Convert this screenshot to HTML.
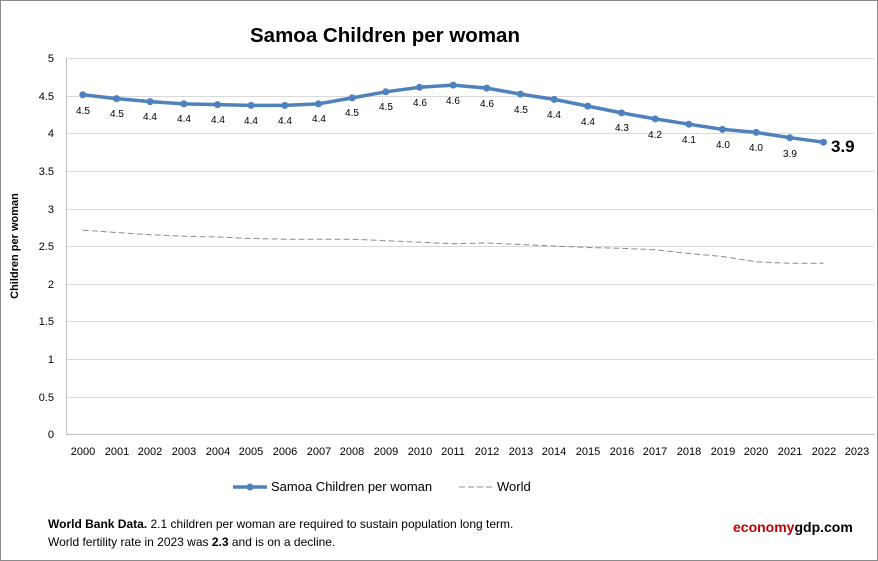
<!DOCTYPE html>
<html><head><meta charset="utf-8"><style>
body{margin:0;background:#fff}
svg{display:block;font-family:"Liberation Sans",sans-serif}
</style></head><body>
<svg width="878" height="561" viewBox="0 0 878 561">
<rect x="0.5" y="0.5" width="877" height="560" fill="#fff" stroke="#8a8a8a"/>
<text x="385" y="42" font-size="20.5" font-weight="bold" text-anchor="middle" fill="#000">Samoa Children per woman</text>
<g stroke="#d9d9d9" stroke-width="1">
<line x1="66" y1="58.5" x2="874" y2="58.5"/><line x1="66" y1="96.5" x2="874" y2="96.5"/><line x1="66" y1="133.5" x2="874" y2="133.5"/><line x1="66" y1="171.5" x2="874" y2="171.5"/><line x1="66" y1="209.5" x2="874" y2="209.5"/><line x1="66" y1="246.5" x2="874" y2="246.5"/><line x1="66" y1="284.5" x2="874" y2="284.5"/><line x1="66" y1="321.5" x2="874" y2="321.5"/><line x1="66" y1="359.5" x2="874" y2="359.5"/><line x1="66" y1="397.5" x2="874" y2="397.5"/>
</g>
<line x1="66.5" y1="58" x2="66.5" y2="434" stroke="#bfbfbf"/>
<line x1="66" y1="434.5" x2="874" y2="434.5" stroke="#bfbfbf"/>
<g font-size="11" text-anchor="end" fill="#000">
<text x="54" y="62">5</text><text x="54" y="100">4.5</text><text x="54" y="137">4</text><text x="54" y="175">3.5</text><text x="54" y="213">3</text><text x="54" y="250">2.5</text><text x="54" y="288">2</text><text x="54" y="325">1.5</text><text x="54" y="363">1</text><text x="54" y="401">0.5</text><text x="54" y="438">0</text>
</g>
<text transform="translate(18,246) rotate(-90)" font-size="11" font-weight="bold" text-anchor="middle">Children per woman</text>
<g font-size="11" text-anchor="middle">
<text x="83" y="455">2000</text><text x="117" y="455">2001</text><text x="150" y="455">2002</text><text x="184" y="455">2003</text><text x="218" y="455">2004</text><text x="251" y="455">2005</text><text x="285" y="455">2006</text><text x="319" y="455">2007</text><text x="352" y="455">2008</text><text x="386" y="455">2009</text><text x="420" y="455">2010</text><text x="453" y="455">2011</text><text x="487" y="455">2012</text><text x="521" y="455">2013</text><text x="554" y="455">2014</text><text x="588" y="455">2015</text><text x="622" y="455">2016</text><text x="655" y="455">2017</text><text x="689" y="455">2018</text><text x="723" y="455">2019</text><text x="756" y="455">2020</text><text x="790" y="455">2021</text><text x="824" y="455">2022</text><text x="857" y="455">2023</text>
</g>
<polyline fill="none" stroke="#8c8c8c" stroke-width="1" stroke-dasharray="6,3" points="82.8,230.2 116.5,232.5 150.1,234.7 183.8,236.2 217.5,237 251.1,238.5 284.8,239.2 318.5,239.2 352.2,239.2 385.8,240.7 419.5,242.2 453.2,243.7 486.8,243 520.5,244.5 554.2,246 587.8,247.5 621.5,248.3 655.2,249.8 688.9,253.5 722.5,256.5 756.2,261.8 789.9,263.3 823.5,263.3"/>
<g fill="#4f81bd">
<polyline fill="none" stroke="#4f81bd" stroke-width="3.5" stroke-linejoin="round" points="82.8,94.8 116.5,98.6 150.1,101.6 183.8,103.9 217.5,104.6 251.1,105.4 284.8,105.4 318.5,103.9 352.2,97.9 385.8,91.8 419.5,87.3 453.2,85.1 486.8,88.1 520.5,94.1 554.2,99.4 587.8,106.1 621.5,112.9 655.2,118.9 688.9,124.2 722.5,129.4 756.2,132.4 789.9,137.7 823.5,142.2"/>
<circle cx="82.8" cy="94.8" r="3.5"/><circle cx="116.5" cy="98.6" r="3.5"/><circle cx="150.1" cy="101.6" r="3.5"/><circle cx="183.8" cy="103.9" r="3.5"/><circle cx="217.5" cy="104.6" r="3.5"/><circle cx="251.1" cy="105.4" r="3.5"/><circle cx="284.8" cy="105.4" r="3.5"/><circle cx="318.5" cy="103.9" r="3.5"/><circle cx="352.2" cy="97.9" r="3.5"/><circle cx="385.8" cy="91.8" r="3.5"/><circle cx="419.5" cy="87.3" r="3.5"/><circle cx="453.2" cy="85.1" r="3.5"/><circle cx="486.8" cy="88.1" r="3.5"/><circle cx="520.5" cy="94.1" r="3.5"/><circle cx="554.2" cy="99.4" r="3.5"/><circle cx="587.8" cy="106.1" r="3.5"/><circle cx="621.5" cy="112.9" r="3.5"/><circle cx="655.2" cy="118.9" r="3.5"/><circle cx="688.9" cy="124.2" r="3.5"/><circle cx="722.5" cy="129.4" r="3.5"/><circle cx="756.2" cy="132.4" r="3.5"/><circle cx="789.9" cy="137.7" r="3.5"/><circle cx="823.5" cy="142.2" r="3.5"/>
</g>
<g font-size="10" text-anchor="middle" fill="#000">
<text x="83" y="114">4.5</text><text x="117" y="117">4.5</text><text x="150" y="120">4.4</text><text x="184" y="122">4.4</text><text x="218" y="123">4.4</text><text x="251" y="124">4.4</text><text x="285" y="124">4.4</text><text x="319" y="122">4.4</text><text x="352" y="116">4.5</text><text x="386" y="110">4.5</text><text x="420" y="106">4.6</text><text x="453" y="104">4.6</text><text x="487" y="107">4.6</text><text x="521" y="113">4.5</text><text x="554" y="118">4.4</text><text x="588" y="125">4.4</text><text x="622" y="131">4.3</text><text x="655" y="138">4.2</text><text x="689" y="143">4.1</text><text x="723" y="148">4.0</text><text x="756" y="151">4.0</text><text x="790" y="157">3.9</text>
</g>
<text x="831" y="152" font-size="17" font-weight="bold">3.9</text>
<line x1="233" y1="487" x2="267" y2="487" stroke="#4f81bd" stroke-width="3.5"/>
<circle cx="250" cy="487" r="3.5" fill="#4f81bd"/>
<text x="271" y="491" font-size="13">Samoa Children per woman</text>
<line x1="459" y1="487" x2="493" y2="487" stroke="#8c8c8c" stroke-dasharray="6,3"/>
<text x="497" y="491" font-size="13">World</text>
<text x="48" y="528" font-size="12"><tspan font-weight="bold">World Bank Data.</tspan>   2.1 children per woman are required to sustain population long term.</text>
<text x="48" y="546" font-size="12">World fertility rate in 2023 was <tspan font-weight="bold">2.3</tspan> and is on a decline.</text>
<text x="733" y="532" font-size="14" font-weight="bold" fill="#c00000">economy<tspan fill="#000">gdp.com</tspan></text>
</svg>
</body></html>
